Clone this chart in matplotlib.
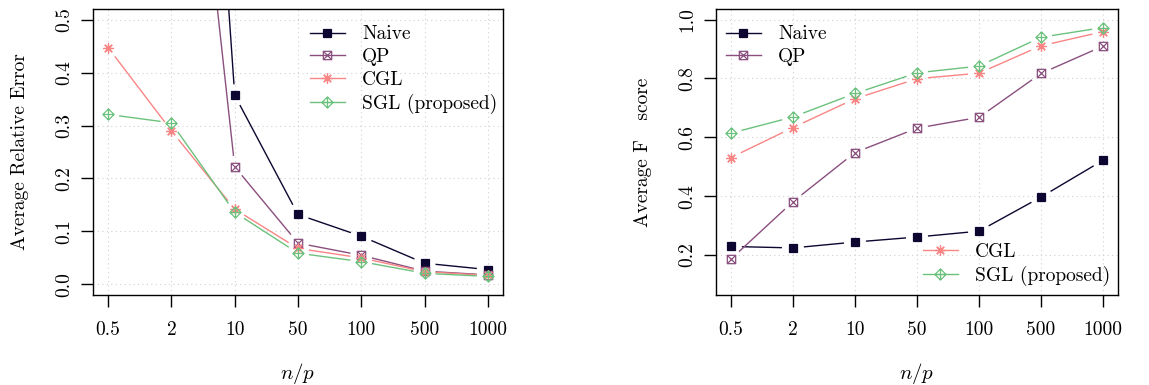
import numpy as np
import matplotlib
matplotlib.use("Agg")
import matplotlib.pyplot as plt
from matplotlib.lines import Line2D
from matplotlib.path import Path

plt.rcParams['font.family'] = ['cmr10', 'DejaVu Serif']
plt.rcParams['mathtext.fontset'] = 'cm'
plt.rcParams['axes.formatter.use_mathtext'] = True

categories = ["0.5", "2", "10", "50", "100", "500", "1000"]

# Left panel: Average Relative Error
err_naive = [5.0, 2.08, 0.357, 0.132, 0.091, 0.040, 0.028]
err_qp = [3.0, 1.31, 0.222, 0.078, 0.055, 0.025, 0.018]
err_cgl = [0.447, 0.290, 0.142, 0.068, 0.050, 0.024, 0.017]
err_sgl = [0.321, 0.305, 0.136, 0.059, 0.043, 0.021, 0.015]

# Right panel: Average F1 score
f_naive = [0.229, 0.224, 0.244, 0.261, 0.281, 0.397, 0.522]
f_qp = [0.186, 0.381, 0.548, 0.631, 0.668, 0.817, 0.910]
f_cgl = [0.531, 0.633, 0.731, 0.799, 0.818, 0.911, 0.959]
f_sgl = [0.614, 0.669, 0.749, 0.819, 0.842, 0.940, 0.973]

series_names = ["Naive", "QP", "CGL", "SGL (proposed)"]
colors = ["#0d0630", "#8a4f7e", "#f98585", "#6cc27d"]

M, L, C = Path.MOVETO, Path.LINETO, Path.CLOSEPOLY
# R pch 7: square with an x inside
square_x = Path([(-1, -1), (1, -1), (1, 1), (-1, 1), (-1, -1),
                 (-1, -1), (1, 1), (-1, 1), (1, -1)],
                [M, L, L, L, C, M, L, M, L])
# R pch 9: diamond with a plus inside
diamond_plus = Path([(0, -1), (1, 0), (0, 1), (-1, 0), (0, -1),
                     (0, -1), (0, 1), (-1, 0), (1, 0)],
                    [M, L, L, L, C, M, L, M, L])


def marker_style(name, color):
    if name == "Naive":
        return dict(marker='s', ms=5.3, mfc=color, mec=color, mew=0.9)
    if name == "QP":
        return dict(marker=square_x, ms=6.0, mfc='none', mec=color, mew=0.9)
    if name == "CGL":
        return dict(marker=(8, 2, 0), ms=7.5, mfc=color, mec=color, mew=0.9)
    return dict(marker=diamond_plus, ms=8.0, mfc='none', mec=color, mew=0.9)


def draw_b(ax, x, y, color, gap_px=11):
    # R type="b": line segments with gaps around points
    trans = ax.transData
    inv = trans.inverted()
    pts = trans.transform(np.column_stack([np.asarray(x, float), np.asarray(y, float)]))
    for i in range(len(pts) - 1):
        p0, p1 = pts[i], pts[i + 1]
        d = p1 - p0
        Ln = np.hypot(d[0], d[1])
        if Ln <= 2 * gap_px:
            continue
        u = d / Ln
        a = inv.transform(p0 + u * gap_px)
        b = inv.transform(p1 - u * gap_px)
        ax.add_line(Line2D([a[0], b[0]], [a[1], b[1]], color=color, lw=1.0, zorder=2,
                           solid_capstyle='butt'))


fig = plt.figure(figsize=(11.49, 3.85), dpi=100)
ax1 = fig.add_axes([93 / 1149, 90 / 385, 410 / 1149, 286 / 385])
ax2 = fig.add_axes([716 / 1149, 90 / 385, 402 / 1149, 286 / 385])

xpos = np.arange(1, len(categories) + 1)

panels = [
    (ax1, [err_naive, err_qp, err_cgl, err_sgl], (0.0, 0.5), np.arange(0, 0.51, 0.1),
     "Average Relative Error"),
    (ax2, [f_naive, f_qp, f_cgl, f_sgl], (0.1, 1.0), np.arange(0.2, 1.01, 0.2),
     "Average F   score"),
]

for ax, data, (ylo, yhi), yticks, ylabel in panels:
    ext = 0.04 * (yhi - ylo)
    ax.set_xlim(1 - 0.04 * 6, 7 + 0.04 * 6)
    ax.set_ylim(ylo - ext, yhi + ext)
    ax.set_autoscale_on(False)
    ax.set_xticks(xpos)
    ax.set_xticklabels(categories)
    ax.set_yticks(yticks)
    ax.set_yticklabels(["%.1f" % v for v in yticks], rotation=90, va='center')
    for t in xpos:
        ax.axvline(t, color='#d0d0d0', lw=0.8, ls=(0, (1, 3)), zorder=0)
    for t in yticks:
        ax.axhline(t, color='#d0d0d0', lw=0.8, ls=(0, (1, 3)), zorder=0)
    ax.tick_params(direction='out', length=8.5, width=1.0, labelsize=14, pad=10)
    ax.tick_params(axis='y', pad=6)
    for s in ax.spines.values():
        s.set_linewidth(1.0)
    ax.set_xlabel(r"$n/p$", fontsize=15, labelpad=16)
    ax.set_ylabel(ylabel, fontsize=14, labelpad=19)
    for vals, name, col in zip(data, series_names, colors):
        draw_b(ax, xpos, vals, col)
        ax.plot(xpos, vals, ls='none', zorder=3, **marker_style(name, col))


def legend_handles(names):
    hs = []
    for name in names:
        col = colors[series_names.index(name)]
        hs.append(Line2D([], [], color=col, lw=1.0, **marker_style(name, col)))
    return hs


common = dict(frameon=False, fontsize=14, handlelength=1.8, handletextpad=0.9,
              labelspacing=0.25, borderaxespad=0.3)
leg1 = ax1.legend(legend_handles(series_names), series_names, loc='upper right',
                  bbox_to_anchor=(1.02, 0.99), **common)
leg2a = ax2.legend(legend_handles(["Naive", "QP"]), ["Naive", "QP"], loc='upper left',
                   bbox_to_anchor=(-0.01, 0.99), **common)
ax2.add_artist(leg2a)
ax2.legend(legend_handles(["CGL", "SGL (proposed)"]), ["CGL", "SGL (proposed)"],
           loc='lower right', bbox_to_anchor=(1.015, -0.015), **common)

fig.savefig("out.png", dpi=100)
